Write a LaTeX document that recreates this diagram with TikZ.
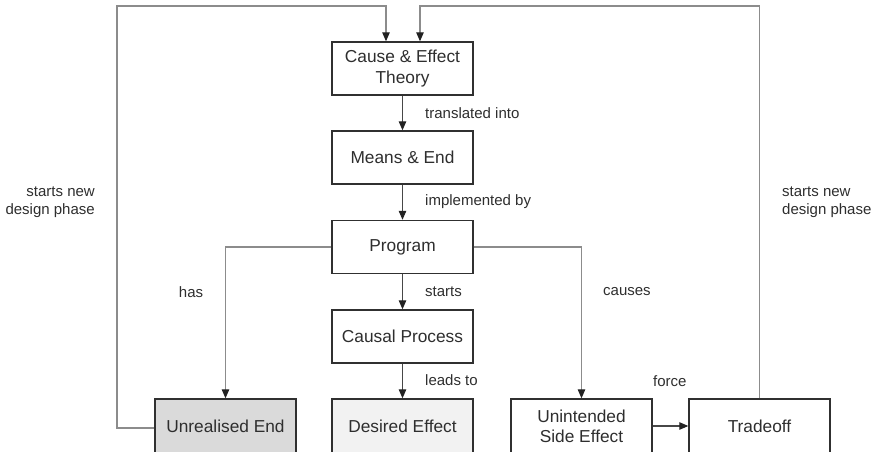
\documentclass[tikz,border=0pt]{standalone}
\usepackage{fontspec}
\setmainfont{Liberation Sans}
\usetikzlibrary{arrows.meta}
\definecolor{ink}{HTML}{2E2E2E}
\definecolor{boxline}{HTML}{303030}
\definecolor{wire}{HTML}{8C8C8C}
\definecolor{darkwire}{HTML}{474747}
\definecolor{tipcol}{HTML}{222222}
\definecolor{unrealfill}{HTML}{DADADA}
\definecolor{desiredfill}{HTML}{F2F2F2}
\begin{document}
\begin{tikzpicture}[x=1pt,y=-1pt,
  box/.style={draw=boxline, line width=1.4pt, fill=white, minimum width=141pt,
    minimum height=53pt, inner sep=0pt, align=center, text=ink,
    font=\fontsize{17.3}{20.5}\selectfont},
  lbl/.style={text=ink, inner sep=0pt, font=\fontsize{15}{18}\selectfont},
  tip/.style={-{Triangle[length=9pt,width=7.5pt,color=tipcol]}},
  link/.style={tip, draw=darkwire, line width=1.1pt},
  feed/.style={tip, draw=wire, line width=1.1pt},
]
\useasboundingbox (0,0) rectangle (878,452);
\clip (0,0) rectangle (878,452);

% boxes
\node[box] (cause) at (402.5,68.5) {Cause \& Effect\\Theory};
\node[box] (means) at (402.5,157.5) {Means \& End};
\node[box] (prog) at (402.5,247) {Program};
\node[box] (causal) at (402.5,336.5) {Causal Process};
\node[box, minimum height=55pt, fill=unrealfill] (ue) at (225.5,426.5) {Unrealised End};
\node[box, minimum height=55pt, fill=desiredfill] (desired) at (402.5,426.5) {Desired Effect};
\node[box, minimum height=55pt] (side) at (581.5,426.5) {Unintended\\Side Effect};
\node[box, minimum height=55pt] (trade) at (759.5,426.5) {Tradeoff};

% corner points of the two feedback loops
\coordinate (ltop) at (117,6);
\coordinate (rtop) at (759.5,6);

% main chain
\draw[link] (cause) -- (means);
\draw[link] (means) -- (prog);
\draw[link] (prog) -- (causal);
\draw[link] (causal) -- (desired);
\draw[link] (side.east |- 0,426) -- (trade.west |- 0,426);

% branches from the program
\draw[feed] (prog.west) -| (ue.north);
\draw[feed] (prog.east) -| (side.north);

% feedback loops back to the theory
\draw[feed] (ue.west |- 0,428) -| (ltop) -| ([xshift=-16.5pt]cause.north);
\draw[feed] (trade.north) |- (rtop) -| ([xshift=17.5pt]cause.north);

% connector labels
\node[lbl, anchor=west] (ltrans) at (425,113) {translated into};
\node[lbl, anchor=west] (limpl) at (425,202) {implemented by};
\node[lbl, anchor=west] (lstarts) at (425,292) {starts};
\node[lbl, anchor=west] (lleads) at (425,380) {leads to};
\node[lbl] (lhas) at (191,292) {has};
\node[lbl, anchor=west] (lcauses) at (603,292) {causes};
\node[lbl, anchor=west] (lforce) at (653,381) {force};
\node[lbl, anchor=east, align=right] (lnewl) at (95,202) {starts new\\design phase};
\node[lbl, anchor=west, align=left] (lnewr) at (782,202) {starts new\\design phase};
\end{tikzpicture}
\end{document}
